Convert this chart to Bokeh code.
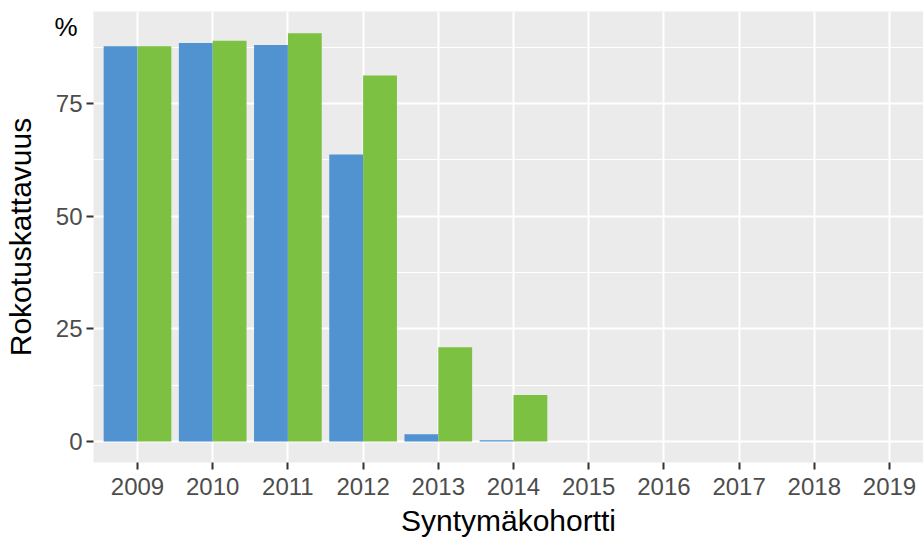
from bokeh.plotting import figure
from bokeh.models import ColumnDataSource, FixedTicker, Range1d, LinearAxis
from bokeh.transform import dodge
from bokeh.embed import file_html
from bokeh.resources import INLINE

# ---- data ----
years = [2009, 2010, 2011, 2012, 2013, 2014, 2015, 2016, 2017, 2018, 2019]
blue_vals = [87.7, 88.4, 88.0, 63.7, 1.6, 0.3, None, None, None, None, None]
green_vals = [87.7, 88.9, 90.6, 81.2, 20.9, 10.3, None, None, None, None, None]
y_ticks = [0, 25, 50, 75]
y_minor = [12.5, 37.5, 62.5, 87.5]
unit_label = "%"
unit_pos = 92

BLUE = "#5192D0"
GREEN = "#7CC142"
FONT = "Liberation Sans"

def src(vals):
    xs = [y for y, v in zip(years, vals) if v is not None]
    vs = [v for v in vals if v is not None]
    return ColumnDataSource(dict(year=xs, val=vs))

p = figure(width=923, height=540, output_backend="svg", toolbar_location=None,
           x_range=Range1d(2008.415, 2019.452), y_range=Range1d(-4.66, 95.41),
           min_border_left=93, min_border_right=0, min_border_top=11, min_border_bottom=78)

p.background_fill_color = "#EBEBEB"
p.border_fill_color = "white"
p.outline_line_color = None

p.vbar(x=dodge("year", -0.225), top="val", width=0.45, bottom=0,
       source=src(blue_vals), fill_color=BLUE, line_color=None)
p.vbar(x=dodge("year", 0.225), top="val", width=0.45, bottom=0,
       source=src(green_vals), fill_color=GREEN, line_color=None)

# outer left axis: unit label "%" and the axis title
outer = LinearAxis(ticker=FixedTicker(ticks=[unit_pos]),
                   major_label_overrides={unit_pos: unit_label})
p.add_layout(outer, "left")

p.xaxis.ticker = FixedTicker(ticks=years)
p.yaxis[0].ticker = FixedTicker(ticks=y_ticks, minor_ticks=y_minor)
p.xgrid.ticker = FixedTicker(ticks=years)
p.ygrid.ticker = FixedTicker(ticks=y_ticks, minor_ticks=y_minor)

for ax in (p.xaxis[0], p.yaxis[0], outer):
    ax.axis_line_color = None
    ax.major_tick_line_color = "#333333"
    ax.major_tick_line_width = 2
    ax.major_tick_out = 7
    ax.major_tick_in = 0
    ax.minor_tick_out = 0
    ax.minor_tick_in = 0
    ax.major_label_text_font = FONT
    ax.major_label_text_font_size = "24px"
    ax.major_label_text_color = "#4D4D4D"
    ax.axis_label_text_font = FONT
    ax.axis_label_text_font_size = "30px"
    ax.axis_label_text_font_style = "normal"
    ax.axis_label_text_color = "black"

outer.major_tick_out = 0
outer.major_tick_line_color = None
outer.major_label_text_color = "black"
outer.major_label_text_font_size = "26px"
outer.major_label_standoff = -25
outer.axis_label = "Rokotuskattavuus"
outer.axis_label_standoff = 14

p.xaxis.axis_label = "Syntymäkohortti"
p.xaxis.major_label_standoff = 8
p.xaxis.axis_label_standoff = 6
p.yaxis[0].major_label_standoff = 4

p.xgrid.grid_line_color = "white"
p.xgrid.grid_line_width = 2
p.ygrid.grid_line_color = "white"
p.ygrid.grid_line_width = 2
p.ygrid.minor_grid_line_color = "white"
p.ygrid.minor_grid_line_width = 1

open("out.html", "w").write(file_html(p, INLINE))
